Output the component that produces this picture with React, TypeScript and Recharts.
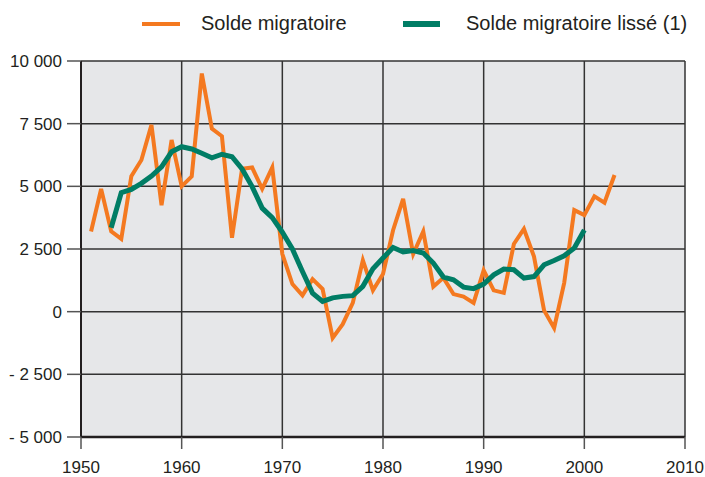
import { CartesianGrid, Legend, Line, LineChart, XAxis, YAxis } from 'recharts';

const years = [
  1951, 1952, 1953, 1954, 1955, 1956, 1957, 1958, 1959, 1960, 1961, 1962, 1963, 1964, 1965, 1966, 1967,
  1968, 1969, 1970, 1971, 1972, 1973, 1974, 1975, 1976, 1977, 1978, 1979, 1980, 1981, 1982, 1983, 1984,
  1985, 1986, 1987, 1988, 1989, 1990, 1991, 1992, 1993, 1994, 1995, 1996, 1997, 1998, 1999, 2000, 2001,
  2002, 2003,
];

const solde = [
  3200, 4900, 3200, 2900, 5400, 6050, 7450, 4250, 6850, 5000, 5400, 9500, 7300, 7000, 2950, 5700, 5750,
  4900, 5750, 2300, 1100, 650, 1300, 900, -1050, -500, 350, 2050, 850, 1500, 3250, 4500, 2300, 3200,
  1000, 1350, 700, 600, 350, 1650, 850, 750, 2700, 3300, 2200, 50, -650, 1150, 4050, 3850, 4600,
  4350, 5450,
];

// smoothed series, 1953 to 2000
const lisseStart = 1953;
const lisse = [
  3350, 4750, 4880, 5120, 5410, 5780, 6380, 6580, 6490, 6320, 6140, 6280, 6180, 5690, 4990, 4130, 3750,
  3170, 2500, 1600, 740, 410, 550, 610, 640, 1010, 1710, 2140, 2560, 2380, 2440, 2340, 1940, 1380,
  1270, 980, 920, 1100, 1470, 1700, 1670, 1340, 1400, 1870, 2040, 2230, 2540, 3260,
];

const xTicks = [1950, 1960, 1970, 1980, 1990, 2000, 2010];
const yTicks = [-5000, -2500, 0, 2500, 5000, 7500, 10000];

const ORANGE = '#f47920';
const GREEN = '#007d65';
const FONT = '"Liberation Sans", Arial, sans-serif';

const data = years.map((year, i) => {
  const j = year - lisseStart;
  return {
    year,
    solde: solde[i],
    lisse: j >= 0 && j < lisse.length ? lisse[j] : null,
  };
});

function formatY(v: number) {
  const s = Math.abs(v)
    .toString()
    .replace(/\B(?=(\d{3})+(?!\d))/g, ' ');
  return v < 0 ? `- ${s}` : s;
}

function ChartLegend() {
  const text: React.CSSProperties = {
    position: 'absolute',
    top: 10,
    fontSize: 20,
    color: '#231f20',
    fontFamily: FONT,
    lineHeight: '26px',
    whiteSpace: 'nowrap',
  };
  return (
    <div style={{ position: 'relative', width: 705, height: 61 }}>
      <div style={{ position: 'absolute', left: 142, top: 22, width: 38, height: 4, background: ORANGE }} />
      <span style={{ ...text, left: 201 }}>Solde migratoire</span>
      <div style={{ position: 'absolute', left: 403, top: 21, width: 37, height: 6, background: GREEN }} />
      <span style={{ ...text, left: 466 }}>Solde migratoire lissé (1)</span>
    </div>
  );
}

export default function App() {
  return (
    <div style={{ width: 705, height: 477 }}>
      <style>{'body{margin:0}'}</style>
      <LineChart width={705} height={477} data={data} margin={{ top: 0, right: 20, bottom: 0, left: 0 }}>
        <CartesianGrid fill="#e6e7e9" stroke="#333" strokeWidth={1.5} strokeOpacity={1} />
        <XAxis
          dataKey="year"
          type="number"
          domain={[1950, 2010]}
          ticks={xTicks}
          height={40}
          tickSize={12}
          tickMargin={12}
          axisLine={{ stroke: '#231f20', strokeWidth: 2.5 }}
          tickLine={{ stroke: '#555', strokeWidth: 1.5 }}
          tick={{ fontSize: 17, fill: '#231f20', fontFamily: FONT }}
          interval={0}
        />
        <YAxis
          type="number"
          domain={[-5000, 10000]}
          ticks={yTicks}
          width={81}
          tickSize={14}
          tickMargin={5}
          tickFormatter={formatY}
          axisLine={{ stroke: '#231f20', strokeWidth: 2 }}
          tickLine={{ stroke: '#555', strokeWidth: 1.5 }}
          tick={{ fontSize: 17, fill: '#231f20', fontFamily: FONT }}
          interval={0}
        />
        <Legend verticalAlign="top" wrapperStyle={{ top: 0, left: 0 }} content={() => <ChartLegend />} />
        <Line
          type="linear"
          dataKey="solde"
          stroke={ORANGE}
          strokeWidth={4}
          dot={false}
          activeDot={false}
          isAnimationActive={false}
        />
        <Line
          type="linear"
          dataKey="lisse"
          stroke={GREEN}
          strokeWidth={5}
          dot={false}
          activeDot={false}
          connectNulls={false}
          isAnimationActive={false}
        />
      </LineChart>
    </div>
  );
}
